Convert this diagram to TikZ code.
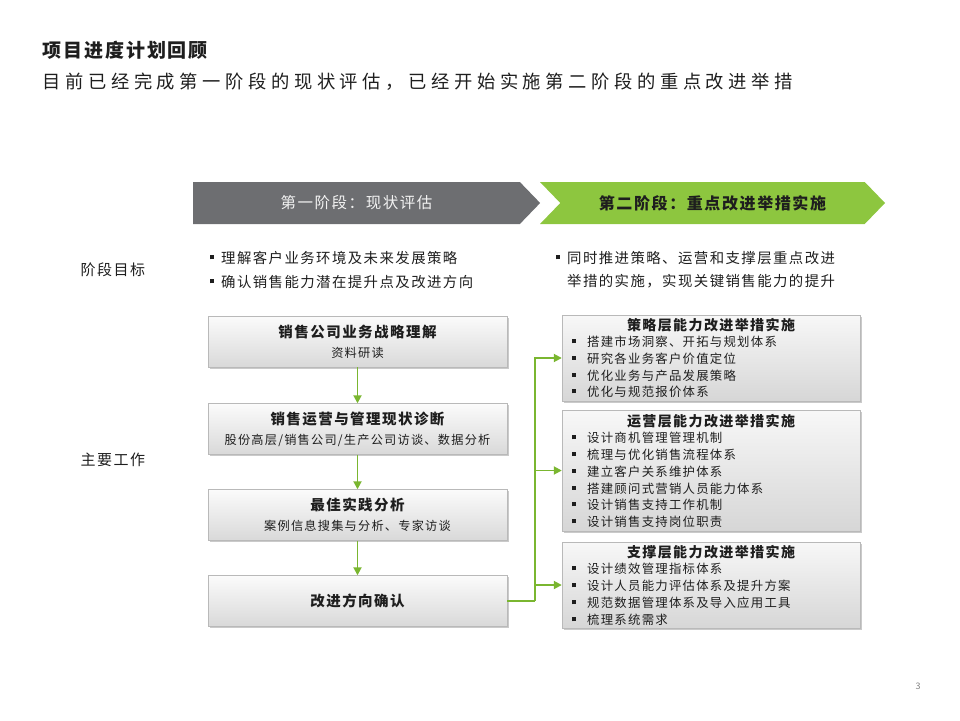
\documentclass[tikz,border=0pt]{standalone}
\usepackage{fontspec}
\setmainfont{Noto Sans CJK SC}[LetterSpace=10]
\newfontfamily\widefont{Noto Sans CJK SC}[LetterSpace=25]
\usetikzlibrary{arrows.meta,shadows,shapes.symbols}

\definecolor{phgray}{RGB}{109,110,113}
\definecolor{phgreen}{RGB}{141,198,63}
\definecolor{lnkgreen}{RGB}{122,182,48}
\definecolor{txt}{RGB}{30,30,30}

\newcommand\bul[1][7pt]{\raisebox{0.28em}{\rule{4pt}{4pt}}\hspace{#1}}

\begin{document}
\begin{tikzpicture}[x=1pt,y=-1pt,
  wbox/.style={draw=gray!55, line width=0.4pt, top color=gray!3, bottom color=gray!30,
    minimum width=299pt, minimum height=51pt, inner sep=0pt, align=center, text=txt,
    font=\fontsize{12.2}{20}\selectfont,
    drop shadow={shadow xshift=1.5pt, shadow yshift=-1.5pt, fill=gray!70, opacity=0.6}},
  rbox/.style={draw=gray!55, line width=0.4pt, top color=gray!6, bottom color=gray!32,
    minimum width=298pt, inner sep=0pt,
    drop shadow={shadow xshift=1.5pt, shadow yshift=-1.5pt, fill=gray!70, opacity=0.6}},
  rtitle/.style={font=\fontsize{14}{16}\selectfont\bfseries, text=txt, inner sep=0pt},
  ritem/.style={anchor=west, font=\fontsize{12.4}{14}\selectfont, text=txt, inner sep=0pt},
  gbul/.style={anchor=west, align=left, text=txt, inner sep=0pt},
  phase/.style={signal, signal to=east, signal pointer angle=92, minimum height=42pt,
    inner sep=0pt},
  gline/.style={draw=lnkgreen, line width=1.8pt},
  garrow/.style={gline, -{Triangle[length=8pt,width=8pt]}}]

\useasboundingbox (0,0) rectangle (960,720);

%% heading
\node[anchor=west, text=txt, font=\fontsize{19}{22}\selectfont\bfseries] (title) at (39,50) {项目进度计划回顾};
\node[anchor=west, text=txt, font=\widefont\fontsize{18.3}{22}\selectfont] (subtitle) at (39,82)
  {目前已经完成第一阶段的现状评估，已经开始实施第二阶段的重点改进举措};

%% phase arrows
\node[phase, fill=phgray, minimum width=347pt, text=gray!10, font=\fontsize{15.5}{18}\selectfont] (ph1) at (356.5,203) {第一阶段：现状评估};
\node[phase, signal from=west, fill=phgreen, minimum width=345pt, text=txt, font=\fontsize{16}{18}\selectfont\bfseries] (ph2) at (712.5,203) {第二阶段：重点改进举措实施};

%% row labels
\node[anchor=west, text=txt, font=\fontsize{15}{18}\selectfont] (goal) at (77,270) {阶段目标};
\node[anchor=west, text=txt, font=\fontsize{15}{18}\selectfont] (work) at (77,460) {主要工作};

%% phase goals
\node[gbul, font=\fontsize{14.4}{24}\selectfont] (g1) at (210,270)
  {\bul 理解客户业务环境及未来发展策略\\\bul 确认销售能力潜在提升点及改进方向};
\node[gbul, font=\fontsize{14.4}{23}\selectfont] (g2) at (556,269.5)
  {\bul 同时推进策略、运营和支撑层重点改进\\\hspace*{11pt}举措的实施，实现关键销售能力的提升};

%% phase one work
\node[wbox] (w1) at (357.5,341.5) {{\bfseries\fontsize{14.5}{20}\selectfont 销售公司业务战略理解}\\资料研读};
\node[wbox] (w2) at (357.5,429) {{\bfseries\fontsize{14.5}{20}\selectfont 销售运营与管理现状诊断}\\股份高层/销售公司/生产公司访谈、数据分析};
\node[wbox] (w3) at (357.5,515) {{\bfseries\fontsize{14.5}{20}\selectfont 最佳实践分析}\\案例信息搜集与分析、专家访谈};
\node[wbox] (w4) at (357.5,601) {{\bfseries\fontsize{14.5}{20}\selectfont 改进方向确认}};

\draw[garrow] (w1) -- (w2);
\draw[garrow] (w2) -- (w3);
\draw[garrow] (w3) -- (w4);

%% phase two work
\node[rbox, minimum height=86pt] (ra) at (711,358) {};
\node[rtitle] (ta) at (711,325) {策略层能力改进举措实施};
\foreach \t [count=\i] in {搭建市场洞察、开拓与规划体系, 研究各业务客户价值定位,
    优化业务与产品发展策略, 优化与规范报价体系}
  \node[ritem] (a\i) at (572,{342+16.7*(\i-1)}) {\bul[11pt]\t};

\node[rbox, minimum height=121pt] (rb) at (711,470.5) {};
\node[rtitle] (tb) at (711,421) {运营层能力改进举措实施};
\foreach \t [count=\i] in {设计商机管理管理机制, 梳理与优化销售流程体系, 建立客户关系维护体系,
    搭建顾问式营销人员能力体系, 设计销售支持工作机制, 设计销售支持岗位职责}
  \node[ritem] (b\i) at (572,{438+16.8*(\i-1)}) {\bul[11pt]\t};

\node[rbox, minimum height=86pt] (rc) at (711,585) {};
\node[rtitle] (tc) at (711,552) {支撑层能力改进举措实施};
\foreach \t [count=\i] in {设计绩效管理指标体系, 设计人员能力评估体系及提升方案,
    规范数据管理体系及导入应用工具, 梳理系统需求}
  \node[ritem] (c\i) at (572,{569+17*(\i-1)}) {\bul[11pt]\t};

%% fork to phase two
\coordinate (fork) at (535,601);
\draw[gline] (w4.east) -- (fork);
\draw[garrow] (fork) |- (ra.west);
\draw[garrow] (fork) |- (rb.west);
\draw[garrow] (fork) |- (rc.west);

%% page number
\node[text=gray, font=\fontsize{9}{10}\selectfont] (pg) at (918,686) {3};
\end{tikzpicture}
\end{document}
